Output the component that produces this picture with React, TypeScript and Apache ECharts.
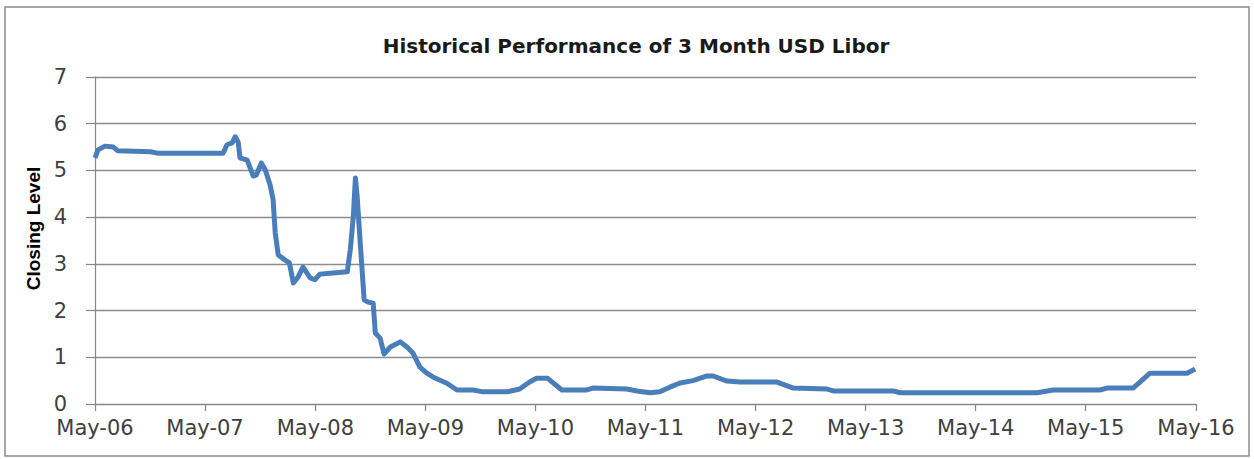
import React, { useEffect, useRef } from "react";
import * as echarts from "echarts";

const title = "Historical Performance of 3 Month USD Libor";
const yAxisName = "Closing Level";

const tickDates = [
  "2006-05-01", "2007-05-01", "2008-05-01", "2009-05-01", "2010-05-01", "2011-05-01",
  "2012-05-01", "2013-05-01", "2014-05-01", "2015-05-01", "2016-05-01",
];
const tickLabels = [
  "May-06", "May-07", "May-08", "May-09", "May-10", "May-11",
  "May-12", "May-13", "May-14", "May-15", "May-16",
];

const dates = [
  "2006-05-01", "2006-05-11", "2006-06-03", "2006-07-01", "2006-07-16", "2006-11-01",
  "2006-11-24", "2007-06-30", "2007-07-13", "2007-07-30", "2007-08-09", "2007-08-19",
  "2007-08-25", "2007-09-18", "2007-10-08", "2007-10-18", "2007-11-04", "2007-11-17",
  "2007-12-03", "2007-12-13", "2007-12-20", "2007-12-30", "2008-01-22", "2008-02-05",
  "2008-02-18", "2008-03-05", "2008-03-21", "2008-04-14", "2008-04-30", "2008-05-16",
  "2008-06-19", "2008-08-15", "2008-08-25", "2008-09-04", "2008-09-11", "2008-09-17",
  "2008-09-27", "2008-10-10", "2008-10-23", "2008-11-09", "2008-11-16", "2008-12-02",
  "2008-12-15", "2009-01-05", "2009-02-07", "2009-03-01", "2009-03-21", "2009-04-13",
  "2009-05-06", "2009-05-26", "2009-06-15", "2009-07-10", "2009-08-14", "2009-10-06",
  "2009-11-09", "2010-01-27", "2010-03-10", "2010-04-12", "2010-05-05", "2010-06-11",
  "2010-07-28", "2010-10-19", "2010-11-08", "2011-03-01", "2011-04-03", "2011-05-16",
  "2011-06-18", "2011-07-21", "2011-08-24", "2011-10-06", "2011-11-22", "2011-12-12",
  "2012-01-27", "2012-03-10", "2012-07-11", "2012-09-03", "2012-12-24", "2013-01-14",
  "2013-07-31", "2013-08-23", "2014-11-21", "2015-01-13", "2015-06-17", "2015-07-10",
  "2015-10-05", "2015-10-28", "2015-11-30", "2016-04-01", "2016-04-17", "2016-04-28",
];
const values = [
  5.27, 5.44, 5.52, 5.5, 5.42, 5.4,
  5.37, 5.37, 5.55, 5.59, 5.72, 5.61,
  5.27, 5.22, 4.88, 4.9, 5.16, 5.01,
  4.69, 4.37, 3.66, 3.19, 3.08, 3.02,
  2.59, 2.72, 2.93, 2.7, 2.66, 2.78,
  2.8, 2.83, 3.3, 4.0, 4.84, 4.43,
  3.45, 2.23, 2.18, 2.16, 1.52, 1.41,
  1.07, 1.22, 1.33, 1.22, 1.09, 0.79,
  0.66, 0.58, 0.52, 0.45, 0.3, 0.3,
  0.26, 0.26, 0.32, 0.47, 0.55, 0.55,
  0.3, 0.3, 0.34, 0.32, 0.28, 0.24,
  0.26, 0.36, 0.45, 0.5, 0.6, 0.6,
  0.49, 0.47, 0.47, 0.34, 0.32, 0.28,
  0.28, 0.24, 0.24, 0.3, 0.3, 0.34,
  0.34, 0.47, 0.66, 0.66, 0.71, 0.75,
];

function ts(s: string): number {
  const [y, m, d] = s.split("-").map(Number);
  return Date.UTC(y, m - 1, d);
}

export default function App() {
  const ref = useRef<HTMLDivElement>(null);
  useEffect(() => {
    if (!ref.current) return;
    const chart = echarts.init(ref.current, undefined, { renderer: "svg" });
    const tickTs = tickDates.map(ts);
    const labelColor = "#404040";
    const axisGray = "#868686";
    chart.setOption({
      animation: false,
      backgroundColor: "#ffffff",
      title: {
        text: title,
        left: 631,
        textAlign: "center",
        top: 31,
        textStyle: {
          fontFamily: "DejaVu Sans",
          fontSize: 20,
          fontWeight: "bold",
          color: "#1a1a1a",
        },
      },
      graphic: [
        {
          type: "rect",
          shape: { x: 5, y: 7, width: 1244, height: 449 },
          style: { fill: "none", stroke: "#8a8a8a", lineWidth: 1.5 },
          silent: true,
        },
      ],
      grid: {
        left: 95,
        right: 58,
        top: 77,
        bottom: 55,
        outerBoundsMode: "none",
        containLabel: false,
      },
      xAxis: {
        type: "value",
        min: tickTs[0],
        max: tickTs[tickTs.length - 1],
        axisLine: { show: true, onZero: false, lineStyle: { color: axisGray, width: 1.2 } },
        axisTick: {
          show: true,
          length: 7,
          inside: false,
          customValues: tickTs,
          lineStyle: { color: axisGray, width: 1.2 },
        },
        axisLabel: {
          customValues: tickTs,
          margin: 13,
          color: labelColor,
          fontFamily: "DejaVu Sans",
          fontSize: 21,
          formatter: (v: number) => {
            const i = tickTs.indexOf(v);
            return i >= 0 ? tickLabels[i] : "";
          },
          showMinLabel: true,
          showMaxLabel: true,
        },
        splitLine: { show: false },
      },
      yAxis: {
        type: "value",
        min: 0,
        max: 7,
        interval: 1,
        name: yAxisName,
        nameLocation: "middle",
        nameGap: 52,
        nameRotate: 90,
        nameTextStyle: {
          fontFamily: "Liberation Sans",
          fontSize: 19,
          fontWeight: "bold",
          color: "#000000",
          padding: [0, 0, 0, 24],
        },
        axisLine: { show: true, lineStyle: { color: axisGray, width: 1.2 } },
        axisTick: { show: true, length: 9, inside: false, lineStyle: { color: axisGray, width: 1.2 } },
        axisLabel: {
          margin: 28,
          color: labelColor,
          fontFamily: "DejaVu Sans",
          fontSize: 21,
        },
        splitLine: { show: true, lineStyle: { color: "#8c8c8c", width: 1.3 } },
      },
      series: [
        {
          type: "line",
          data: dates.map((d, i) => [ts(d), values[i]]),
          showSymbol: false,
          symbol: "none",
          lineStyle: { color: "#4a7ebb", width: 5, join: "round" },
          itemStyle: { color: "#4a7ebb" },
        },
      ],
    });
    return () => chart.dispose();
  }, []);
  return (
    <div
      ref={ref}
      style={{ position: "fixed", left: 0, top: 0, width: 1254, height: 459 }}
    />
  );
}
